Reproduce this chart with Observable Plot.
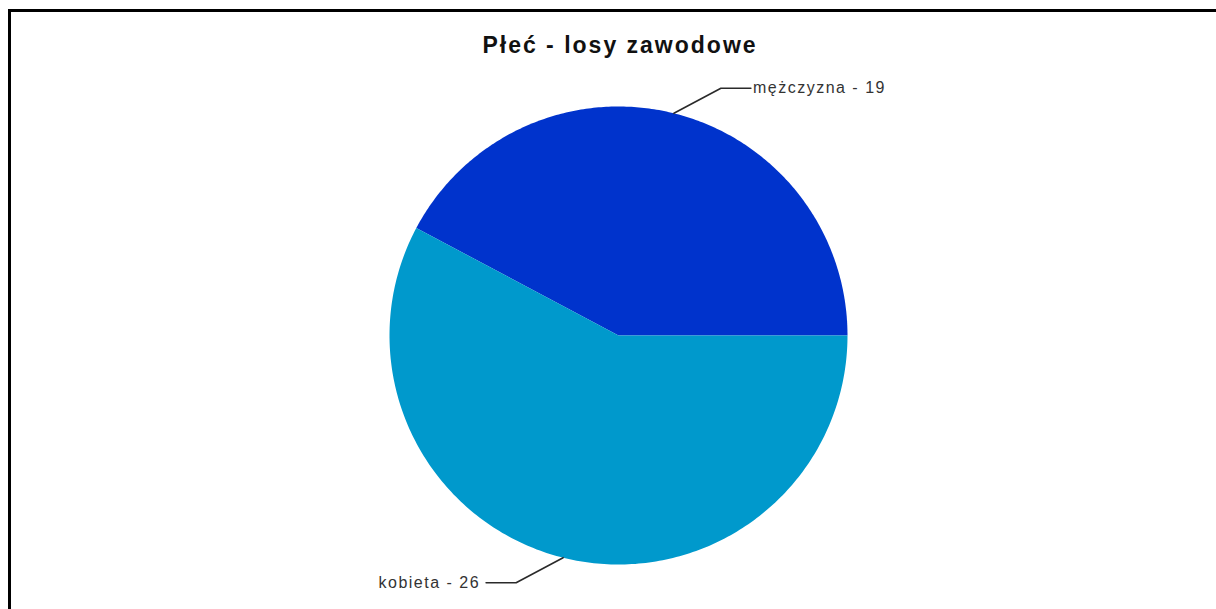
<!DOCTYPE html>
<html><head><meta charset="utf-8">
<script src="https://cdn.jsdelivr.net/npm/d3@7"></script>
<script src="https://cdn.jsdelivr.net/npm/@observablehq/plot@0.6"></script>
<style>
html,body{margin:0;padding:0;background:#fff;overflow:hidden;width:1216px;height:609px;}
#frame{position:absolute;left:8px;top:9px;width:1300px;height:700px;border-top:3px solid #000;border-left:3px solid #000;box-sizing:border-box;}
#title{position:absolute;left:0;width:1240px;top:34px;text-align:center;font-family:"Liberation Sans",Arial,sans-serif;font-weight:bold;font-size:23px;line-height:23px;letter-spacing:2px;color:#111;}
#chart{position:absolute;left:0;top:0;}
</style></head><body>
<div id="frame"></div>
<div id="chart"></div>
<div id="title">Płeć - losy zawodowe</div>
<script>
const categories = ["mężczyzna", "kobieta"];
const values = [19, 26];
const colors = ["#0033cc", "#0099cc"];

const R = 229;
const arcs = d3.pie().sort(null)
  .startAngle(Math.PI / 2)
  .endAngle(Math.PI / 2 - 2 * Math.PI)(values);

const wedgePts = [];
const leaderPts = [];
const labels = [];
arcs.forEach((a, i) => {
  const name = categories[i];
  wedgePts.push({name, x: 0, y: 0});
  const n = 240;
  for (let k = 0; k <= n; k++) {
    const t = a.startAngle + (a.endAngle - a.startAngle) * k / n;
    wedgePts.push({name, x: R * Math.sin(t), y: R * Math.cos(t)});
  }
  wedgePts.push({name, x: 0, y: 0});
  const mid = (a.startAngle + a.endAngle) / 2;
  const ex = R * Math.sin(mid), ey = R * Math.cos(mid);
  const sx = Math.sign(ex), sy = Math.sign(ey);
  const bx = ex + 47 * sx, by = ey + 25 * sy;
  const fx = bx + 30 * sx;
  leaderPts.push({name, x: ex, y: ey}, {name, x: bx, y: by}, {name, x: fx, y: by});
  labels.push({name, x: fx, y: by, side: sx, label: `${name} - ${values[i]}`});
});

const textStyle = {fontFamily: "Liberation Sans", fontSize: 16, fill: "#333", lineAnchor: "middle"};

const plot = Plot.plot({
  width: 1216, height: 609, margin: 0,
  style: {background: "transparent", fontFamily: "Liberation Sans", letterSpacing: "1.5px"},
  x: {domain: [-618, 598], axis: null},
  y: {domain: [-274, 335], axis: null},
  color: {domain: categories, range: colors},
  marks: [
    Plot.line(wedgePts, {x: "x", y: "y", z: "name", fill: "name", stroke: "none", curve: "linear"}),
    Plot.line(leaderPts, {x: "x", y: "y", z: "name", stroke: "#2a2a2a", strokeWidth: 1.6}),
    Plot.text(labels.filter(d => d.side > 0), {x: "x", y: "y", text: "label", textAnchor: "start", dx: 2, ...textStyle}),
    Plot.text(labels.filter(d => d.side < 0), {x: "x", y: "y", text: "label", textAnchor: "end", dx: -6, ...textStyle})
  ]
});
document.getElementById("chart").appendChild(plot);
</script>
</body></html>
